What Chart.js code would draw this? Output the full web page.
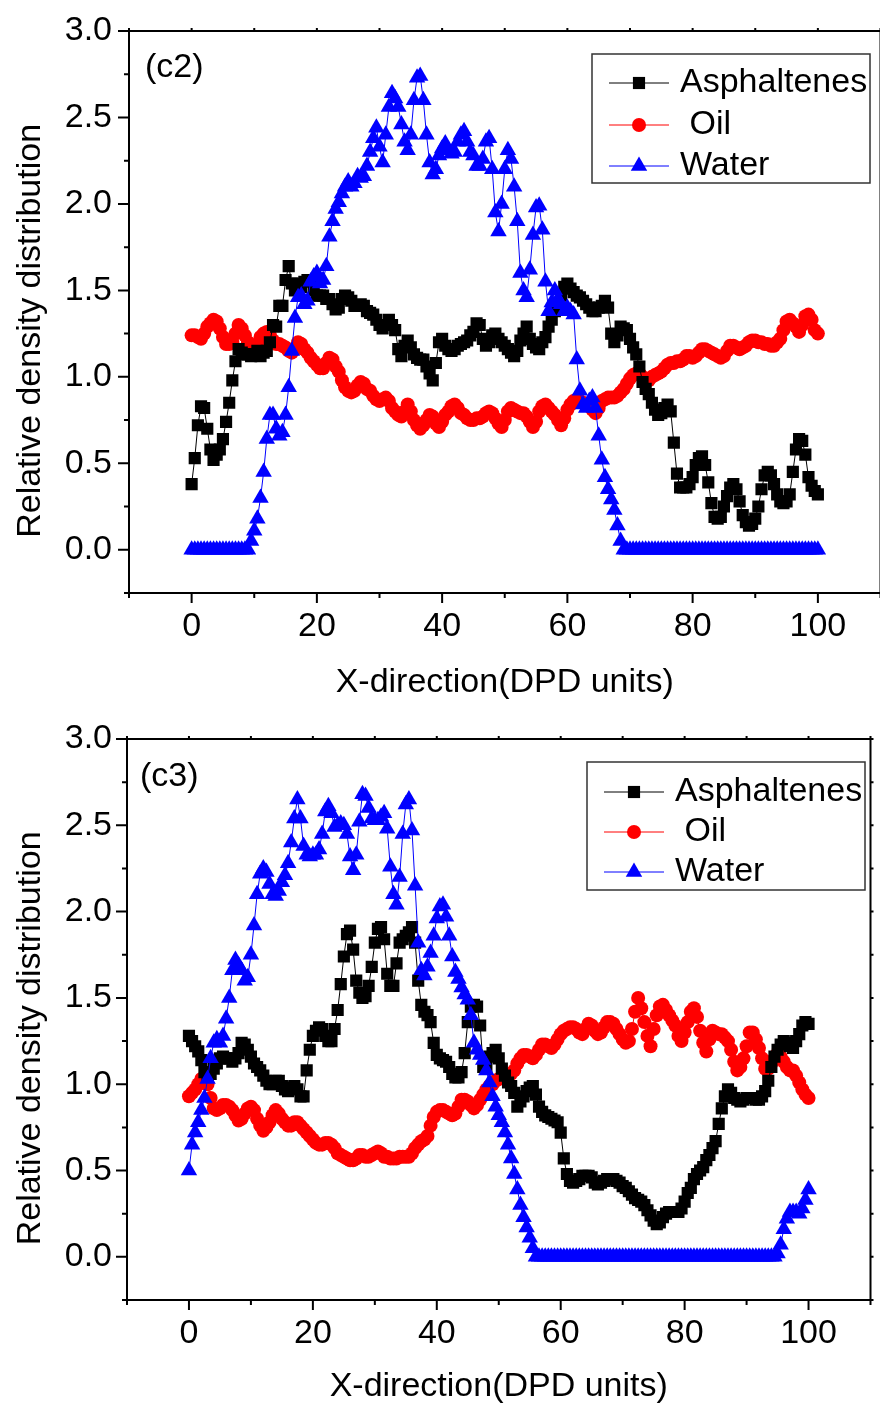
<!DOCTYPE html>
<html lang="en">
<head>
<meta charset="utf-8">
<title>relative density distribution (c2, c3)</title>
<style>
  html, body { margin: 0; padding: 0; background: #fff; overflow: hidden; }
  #wrap { position: relative; width: 880px; height: 1407px; overflow: hidden; }
  #c2 { position: absolute; left: 0; top: 0; }
  #c3 { position: absolute; left: 0; top: 705px; }
</style>
</head>
<body>
<div id="wrap">
  <canvas id="c2" width="890" height="705"></canvas>
  <canvas id="c3" width="880" height="702"></canvas>
</div>

<script src="https://cdn.jsdelivr.net/npm/chart.js"></script>
<script>
// samples every 0.5 DPD units, x = 0 .. 100 (201 points per series)
const XSTEP = 0.5;
const LEGEND_ORDER = ['Asphaltenes', ' Oil', 'Water'];

// ---- panel (c2) ----
const asph_c2 = [
  0.38,0.53,0.72,0.83,0.82,0.70,0.58,0.52,0.55,0.58, 0.64,0.74,0.85,0.98,1.09,1.16,1.14,1.13,1.13,1.12,
  1.13,1.15,1.12,1.14,1.15,1.20,1.30,1.29,1.41,1.41, 1.56,1.64,1.54,1.50,1.54,1.52,1.55,1.56,1.56,1.50,
  1.47,1.47,1.47,1.45,1.45,1.42,1.39,1.40,1.45,1.47, 1.46,1.44,1.41,1.41,1.42,1.41,1.38,1.37,1.36,1.33,
  1.30,1.28,1.30,1.33,1.30,1.27,1.16,1.12,1.18,1.21, 1.17,1.13,1.11,1.10,1.10,1.06,1.02,0.98,1.08,1.20,
  1.22,1.18,1.16,1.15,1.16,1.18,1.19,1.20,1.21,1.24, 1.26,1.31,1.30,1.22,1.18,1.20,1.24,1.25,1.22,1.20,
  1.18,1.16,1.14,1.12,1.15,1.21,1.25,1.29,1.22,1.19, 1.17,1.16,1.20,1.23,1.29,1.33,1.38,1.42,1.47,1.52,
  1.54,1.51,1.49,1.47,1.46,1.44,1.42,1.40,1.38,1.38, 1.40,1.41,1.44,1.40,1.25,1.20,1.24,1.29,1.28,1.27,
  1.22,1.17,1.13,1.06,0.97,0.93,0.90,0.85,0.81,0.78, 0.79,0.82,0.84,0.80,0.62,0.44,0.36,0.36,0.36,0.38,
  0.42,0.49,0.53,0.54,0.49,0.39,0.27,0.19,0.18,0.19, 0.25,0.31,0.36,0.38,0.35,0.28,0.20,0.16,0.14,0.15,
  0.18,0.25,0.35,0.43,0.45,0.43,0.38,0.32,0.28,0.27, 0.28,0.32,0.45,0.58,0.64,0.63,0.55,0.42,0.37,0.34,
  0.32
];
const oil_c2 = [
  1.24,1.24,1.23,1.22,1.25,1.29,1.31,1.33,1.32,1.28, 1.23,1.19,1.19,1.20,1.25,1.30,1.28,1.24,1.20,1.18,
  1.17,1.19,1.23,1.25,1.26,1.24,1.21,1.19,1.19,1.18, 1.17,1.15,1.14,1.16,1.20,1.19,1.16,1.14,1.11,1.09,
  1.07,1.05,1.05,1.08,1.11,1.10,1.06,1.03,0.98,0.94, 0.92,0.91,0.92,0.95,0.97,0.96,0.93,0.92,0.89,0.87,
  0.86,0.87,0.88,0.86,0.82,0.80,0.78,0.77,0.80,0.84, 0.80,0.75,0.72,0.70,0.72,0.75,0.78,0.77,0.73,0.71,
  0.74,0.78,0.80,0.83,0.84,0.82,0.79,0.78,0.76,0.75, 0.75,0.76,0.76,0.77,0.79,0.80,0.79,0.76,0.73,0.71,
  0.75,0.80,0.82,0.81,0.80,0.79,0.79,0.77,0.74,0.71, 0.74,0.80,0.83,0.84,0.82,0.80,0.78,0.75,0.72,0.76,
  0.81,0.84,0.86,0.87,0.86,0.85,0.84,0.83,0.81,0.79, 0.82,0.86,0.87,0.88,0.88,0.88,0.89,0.91,0.93,0.96,
  0.99,1.01,1.02,1.02,1.00,0.98,0.98,1.00,1.01,1.02, 1.03,1.05,1.07,1.08,1.08,1.09,1.09,1.10,1.12,1.12,
  1.11,1.12,1.14,1.16,1.16,1.15,1.14,1.13,1.12,1.11, 1.12,1.15,1.18,1.18,1.17,1.16,1.17,1.18,1.20,1.21,
  1.21,1.20,1.20,1.19,1.19,1.18,1.18,1.20,1.22,1.27, 1.32,1.33,1.31,1.29,1.26,1.30,1.35,1.36,1.33,1.27,
  1.25
];
const water_c2 = [
  0,0,0,0,0,0,0,0,0,0, 0,0,0,0,0,0,0,0,0,0.05,
  0.11,0.18,0.30,0.45,0.64,0.78,0.78,0.70,0.66,0.68, 0.78,0.94,1.15,1.34,1.46,1.47,1.42,1.44,1.55,1.58,
  1.60,1.54,1.56,1.64,1.81,1.90,1.97,2.01,2.06,2.10, 2.13,2.10,2.12,2.16,2.15,2.16,2.22,2.30,2.38,2.44,
  2.33,2.24,2.40,2.56,2.64,2.61,2.56,2.46,2.36,2.31, 2.40,2.60,2.73,2.74,2.60,2.40,2.24,2.17,2.20,2.28,
  2.32,2.35,2.31,2.29,2.30,2.36,2.40,2.42,2.36,2.30, 2.28,2.22,2.22,2.26,2.36,2.38,2.20,1.95,1.84,2.00,
  2.20,2.31,2.26,2.10,1.90,1.60,1.50,1.46,1.62,1.82, 1.98,1.99,1.85,1.55,1.38,1.43,1.50,1.45,1.42,1.38,
  1.40,1.38,1.36,1.10,0.92,0.84,0.82,0.86,0.88,0.82, 0.66,0.52,0.42,0.35,0.29,0.23,0.14,0.05,0,0,
  0,0,0,0,0,0,0,0,0,0, 0,0,0,0,0,0,0,0,0,0,
  0,0,0,0,0,0,0,0,0,0, 0,0,0,0,0,0,0,0,0,0,
  0,0,0,0,0,0,0,0,0,0, 0,0,0,0,0,0,0,0,0,0,
  0
];

// ---- panel (c3) ----
const asph_c3 = [
  1.28,1.25,1.22,1.19,1.14,1.07,1.05,1.06,1.09,1.12, 1.15,1.16,1.15,1.15,1.13,1.15,1.18,1.24,1.23,1.20,
  1.16,1.12,1.10,1.08,1.05,1.02,1.00,1.00,1.02,1.02, 0.99,0.97,0.96,0.98,0.99,0.97,0.93,0.93,1.08,1.20,
  1.28,1.31,1.33,1.32,1.28,1.25,1.25,1.32,1.43,1.58, 1.74,1.87,1.89,1.78,1.60,1.53,1.50,1.51,1.57,1.68,
  1.82,1.90,1.91,1.84,1.64,1.57,1.57,1.70,1.82,1.84, 1.86,1.88,1.91,1.82,1.60,1.46,1.42,1.40,1.36,1.24,
  1.17,1.15,1.14,1.13,1.10,1.06,1.04,1.04,1.07,1.18, 1.36,1.45,1.46,1.45,1.34,1.10,1.10,1.16,1.18,1.20,
  1.15,1.09,1.05,1.01,0.99,0.95,0.87,0.90,0.93,0.96, 0.98,0.99,0.94,0.87,0.84,0.82,0.81,0.80,0.79,0.78,
  0.72,0.57,0.48,0.44,0.43,0.44,0.45,0.47,0.47,0.47, 0.46,0.43,0.42,0.43,0.44,0.45,0.45,0.45,0.44,0.43,
  0.41,0.40,0.38,0.36,0.34,0.33,0.32,0.30,0.27,0.24, 0.21,0.19,0.20,0.23,0.25,0.26,0.26,0.26,0.26,0.28,
  0.32,0.37,0.40,0.45,0.48,0.50,0.52,0.56,0.59,0.63, 0.67,0.77,0.86,0.93,0.97,0.95,0.92,0.91,0.90,0.91,
  0.92,0.92,0.92,0.91,0.91,0.93,0.96,1.02,1.10,1.16, 1.20,1.23,1.25,1.24,1.22,1.21,1.25,1.29,1.34,1.36,
  1.35
];
const oil_c3 = [
  0.93,0.95,0.97,1.00,1.03,1.04,1.00,0.92,0.86,0.85, 0.86,0.88,0.88,0.87,0.85,0.82,0.79,0.80,0.83,0.86,
  0.87,0.85,0.80,0.76,0.73,0.75,0.78,0.82,0.85,0.83, 0.80,0.78,0.76,0.76,0.78,0.78,0.76,0.74,0.72,0.70,
  0.68,0.66,0.65,0.65,0.66,0.66,0.65,0.63,0.60,0.59, 0.58,0.57,0.56,0.56,0.57,0.59,0.59,0.58,0.58,0.59,
  0.60,0.61,0.60,0.58,0.58,0.57,0.57,0.57,0.58,0.58, 0.58,0.58,0.60,0.63,0.65,0.67,0.68,0.70,0.76,0.81,
  0.84,0.85,0.85,0.84,0.83,0.82,0.83,0.87,0.91,0.91, 0.90,0.88,0.86,0.88,0.91,0.94,0.97,0.99,1.00,1.02,
  1.03,1.04,1.05,1.05,1.06,1.08,1.12,1.15,1.17,1.17, 1.16,1.15,1.17,1.20,1.23,1.23,1.22,1.21,1.23,1.26,
  1.29,1.31,1.32,1.33,1.33,1.32,1.30,1.29,1.32,1.35, 1.34,1.31,1.29,1.30,1.33,1.36,1.36,1.35,1.32,1.29,
  1.26,1.24,1.25,1.32,1.42,1.50,1.44,1.36,1.28,1.22, 1.32,1.40,1.45,1.46,1.43,1.40,1.37,1.34,1.28,1.25,
  1.30,1.36,1.42,1.44,1.39,1.31,1.24,1.19,1.26,1.31, 1.30,1.29,1.29,1.27,1.25,1.20,1.13,1.08,1.10,1.15,
  1.22,1.30,1.30,1.26,1.21,1.15,1.09,1.09,1.12,1.15, 1.18,1.16,1.13,1.10,1.08,1.08,1.05,1.01,0.97,0.94,
  0.92
];
const water_c3 = [
  0.50,0.65,0.72,0.78,0.85,0.92,1.03,1.15,1.24,1.26, 1.24,1.28,1.38,1.50,1.66,1.72,1.69,1.66,1.60,1.62,
  1.75,1.92,2.10,2.22,2.25,2.23,2.16,2.10,2.09,2.12, 2.17,2.21,2.28,2.40,2.54,2.65,2.54,2.38,2.33,2.32,
  2.33,2.33,2.36,2.45,2.58,2.61,2.57,2.49,2.50,2.51, 2.50,2.45,2.32,2.24,2.33,2.52,2.68,2.67,2.60,2.54,
  2.53,2.53,2.55,2.57,2.48,2.26,2.10,2.04,2.20,2.45, 2.62,2.65,2.47,2.15,1.82,1.66,1.63,1.68,1.76,1.86,
  1.96,2.03,2.04,1.97,1.86,1.74,1.65,1.61,1.56,1.52, 1.49,1.40,1.24,1.20,1.17,1.14,1.08,1.01,0.93,0.87,
  0.82,0.78,0.72,0.65,0.57,0.48,0.39,0.30,0.23,0.17, 0.11,0.05,0,0,0,0,0,0,0,0,
  0,0,0,0,0,0,0,0,0,0, 0,0,0,0,0,0,0,0,0,0,
  0,0,0,0,0,0,0,0,0,0, 0,0,0,0,0,0,0,0,0,0,
  0,0,0,0,0,0,0,0,0,0, 0,0,0,0,0,0,0,0,0,0,
  0,0,0,0,0,0,0,0,0,0, 0.02,0.07,0.16,0.22,0.26,0.26,0.26,0.25,0.28,0.33,
  0.39
];

const FONT = "'Liberation Sans', Arial, sans-serif";
Chart.defaults.font.family = FONT;
Chart.defaults.font.size = 34;
Chart.defaults.color = '#000';

function pts(vals) {
  return vals.map((v, i) => ({x: i * XSTEP, y: v}));
}

function makeDatasets(asph, oil, water) {
  const common = {showLine: true, borderWidth: 1, pointBorderWidth: 0, pointHoverRadius: 0};
  // lower order is drawn on top: water over asphaltenes over oil
  return [
    Object.assign({label: 'Water', data: pts(water), borderColor: '#0000ff', backgroundColor: '#0000ff',
      pointStyle: 'triangle', pointRadius: 9.5, order: 0}, common),
    Object.assign({label: 'Asphaltenes', data: pts(asph), borderColor: '#000000', backgroundColor: '#000000',
      pointStyle: 'rect', pointRadius: 8.6, order: 1}, common),
    Object.assign({label: ' Oil', data: pts(oil), borderColor: '#ff0000', backgroundColor: '#ff0000',
      pointStyle: 'circle', pointRadius: 7, order: 2}, common)
  ];
}

// frame, outward ticks, inner legend box and panel tag
const decoPlugin = {
  id: 'deco',
  afterDraw(chart, args, opts) {
    const ctx = chart.ctx;
    const a = chart.chartArea;
    const xs = chart.scales.x, ys = chart.scales.y;
    ctx.save();
    ctx.strokeStyle = '#000';
    ctx.lineWidth = 2;
    ctx.strokeRect(a.left, a.top, a.right - a.left, a.bottom - a.top);

    ctx.beginPath();
    for (let k = -1; k <= 11; k++) {
      const px = xs.getPixelForValue(k * 10);
      const len = (k % 2 === 0) ? 10 : 5;
      ctx.moveTo(px, a.bottom); ctx.lineTo(px, a.bottom + len);
      ctx.moveTo(px, a.top); ctx.lineTo(px, a.top - 3);
    }
    for (let k = -1; k <= 12; k++) {
      const py = ys.getPixelForValue(k * 0.25);
      const len = (k % 2 === 0) ? 11 : 5;
      ctx.moveTo(a.left, py); ctx.lineTo(a.left - len, py);
      ctx.moveTo(a.right, py); ctx.lineTo(a.right + 3, py);
    }
    ctx.stroke();

    // panel tag
    ctx.fillStyle = '#000';
    ctx.font = '34px ' + FONT;
    ctx.textBaseline = 'middle';
    ctx.textAlign = 'left';
    ctx.fillText(opts.tag, a.left + opts.tagX, a.top + opts.tagY);

    // legend
    const b = opts.box;
    ctx.lineWidth = 1.5;
    ctx.strokeStyle = '#333';
    ctx.strokeRect(a.left + b[0], a.top + b[1], b[2] - b[0], b[3] - b[1]);
    LEGEND_ORDER.forEach((name, i) => {
      const ds = chart.data.datasets.find(d => d.label === name);
      const y = a.top + opts.rows[i];
      const x0 = a.left + opts.sample[0], x1 = a.left + opts.sample[1];
      ctx.strokeStyle = ds.borderColor;
      ctx.lineWidth = 1;
      ctx.beginPath();
      ctx.moveTo(x0, y); ctx.lineTo(x1, y);
      ctx.stroke();
      ctx.fillStyle = ds.backgroundColor;
      Chart.helpers.drawPoint(ctx, {pointStyle: ds.pointStyle, radius: ds.pointRadius, rotation: 0, borderWidth: 0},
        (x0 + x1) / 2, y);
      ctx.fillStyle = '#000';
      ctx.fillText(name, a.left + opts.textX, y);
    });
    ctx.restore();
  }
};

function makeChart(id, sets, geom, deco) {
  return new Chart(document.getElementById(id), {
    type: 'scatter',
    data: {datasets: sets},
    plugins: [decoPlugin],
    options: {
      responsive: false,
      animation: false,
      events: [],
      layout: {padding: {top: geom.padTop, right: geom.padRight, left: 0, bottom: 0}},
      plugins: {legend: {display: false}, tooltip: {enabled: false}, deco: deco},
      scales: {
        x: {
          type: 'linear', min: -10, max: 110,
          grid: {display: false, drawTicks: false},
          border: {display: false},
          afterFit: (s) => { s.height = geom.xAxisHeight; s.paddingLeft = 0; s.paddingRight = 0; },
          ticks: {
            stepSize: 10, autoSkip: false, maxRotation: 0, padding: 13,
            callback: (v) => (v >= 0 && v <= 100 && v % 20 === 0) ? String(v) : ''
          },
          title: {display: true, text: 'X-direction(DPD units)', padding: {top: 0, bottom: geom.xTitlePad}}
        },
        y: {
          type: 'linear', min: -0.25, max: 3.0,
          grid: {display: false, drawTicks: false},
          border: {display: false},
          afterFit: (s) => { s.width = geom.yAxisWidth; s.paddingTop = 0; s.paddingBottom = 0; },
          ticks: {
            stepSize: 0.25, autoSkip: false, padding: geom.yTickPad,
            callback: (v) => {
              const k = Math.round(v * 4);
              return (k >= 0 && k % 2 === 0) ? (k / 4).toFixed(1) : '';
            }
          },
          title: {display: true, text: 'Relative density distribution    ', padding: {top: 10, bottom: 0}}
        }
      }
    }
  });
}

makeChart('c2', makeDatasets(asph_c2, oil_c2, water_c2),
  {padTop: 31, padRight: 4.5, yAxisWidth: 129, xAxisHeight: 112, xTitlePad: 2, yTickPad: 17},
  {tag: '(c2)', tagX: 16, tagY: 37, box: [463, 23, 741, 152], rows: [52, 94, 135], sample: [480, 540], textX: 551});

makeChart('c3', makeDatasets(asph_c3, oil_c3, water_c3),
  {padTop: 34, padRight: 2, yAxisWidth: 127, xAxisHeight: 107, xTitlePad: 0, yTickPad: 15},
  {tag: '(c3)', tagX: 13, tagY: 38, box: [460, 23, 738, 151], rows: [53, 93, 133], sample: [477, 537], textX: 548});
</script>
</body>
</html>
